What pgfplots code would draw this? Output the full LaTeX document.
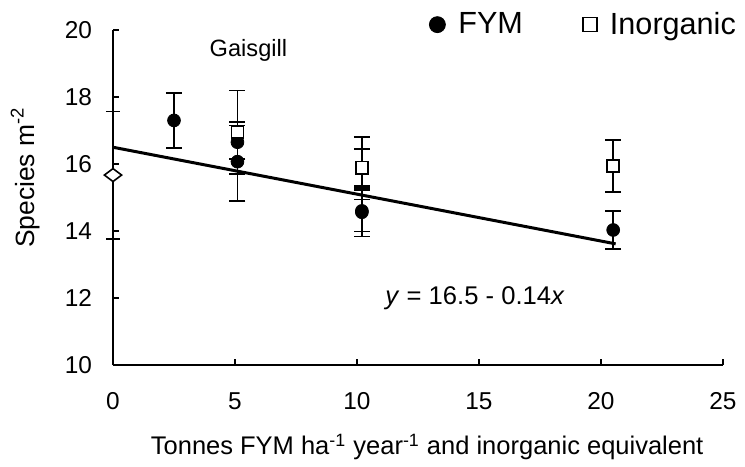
\documentclass[border=0pt]{standalone}
\usepackage{fontspec}
\setmainfont{Liberation Sans}
\usepackage{pgfplots}
\pgfplotsset{compat=1.18}

\newcommand{\tickfont}{\fontsize{12.2bp}{14bp}\selectfont}
\newcommand{\xlabelfont}{\fontsize{12.75bp}{15bp}\selectfont}
\newcommand{\ylabelfont}{\fontsize{13.2bp}{15bp}\selectfont}
\newcommand{\legfont}{\fontsize{15.3bp}{18bp}\selectfont}

% FYM plots (filled circles): x, mean, standard error
\pgfplotstableread{
x     y      e
2.5   17.30  0.82
5.1   16.65  0.50
5.1   16.07  1.18
10.2  14.60  0.62
10.2  14.56  0.73
20.5  14.03  0.56
}\fym

% Inorganic equivalents (open squares)
\pgfplotstableread{
x     y      e
5.1   16.95  1.24
10.2  15.87  0.93
10.2  15.90  0.55
20.5  15.94  0.78
}\inorg

% Unfertilised control
\pgfplotstableread{
x     y      e
0     15.67  1.90
}\control

\begin{document}
\begin{tikzpicture}
\useasboundingbox (0,0) rectangle (372.5bp,233.5bp);
\begin{axis}[
  at={(56.5bp,51bp)}, anchor=south west,
  scale only axis, width=305bp, height=167.5bp,
  xmin=0, xmax=25, ymin=10, ymax=20,
  axis x line=bottom, axis y line=left,
  axis line style={-, line width=1bp, black},
  xtick={0,5,...,25}, ytick={10,12,...,20},
  tick align=inside, major tick length=3.2bp,
  tick style={line width=0.9bp, black},
  /pgf/number format/assume math mode=true,
  ticklabel style={font=\tickfont},
  xticklabel style={anchor=center, yshift=-18bp},
  yticklabel style={anchor=east, xshift=-7bp},
  xlabel={Tonnes FYM ha\textsuperscript{-1} year\textsuperscript{-1} and inorganic equivalent},
  ylabel={Species m\textsuperscript{-2}},
  every axis x label/.style={at={(axis description cs:0.515,-0.245)}, anchor=center, font=\xlabelfont},
  every axis y label/.style={at={(axis description cs:-0.144,0.56)}, rotate=90, anchor=center, font=\ylabelfont},
  legend columns=2,
  legend style={at={(axis description cs:0.518,1.016)}, anchor=west,
    draw=none, fill=none, inner sep=0pt, font=\legfont,
    nodes={inner sep=0pt},
    /tikz/every odd column/.append style={column sep=6.5bp},
    /tikz/every even column/.append style={column sep=30bp}},
  legend image code/.code={\draw[#1] plot coordinates {(4bp,0bp)};},
  clip=false,
]

% control (zero input)
\addplot[only marks, mark=diamond*, mark size=4.3bp, black, forget plot,
  mark options={rotate=90, fill=white, line width=0.8bp},
  error bars/.cd, y dir=both, y explicit,
  error bar style={line width=0.8bp, black},
  error mark options={rotate=90, mark size=3.5bp, line width=0.8bp, black}]
  table[x=x, y=y, y error=e] {\control};

% fitted regression y = 16.5 - 0.14x
\addplot[line width=1.5bp, black, forget plot] coordinates {(0,16.5) (20.6,13.616)};

\addplot[only marks, mark=*, mark size=3.2bp, black,
  mark options={fill=black},
  legend image post style={mark size=4bp},
  error bars/.cd, y dir=both, y explicit,
  error bar style={line width=0.8bp, black},
  error mark options={rotate=90, mark size=4bp, line width=0.8bp, black}]
  table[x=x, y=y, y error=e] {\fym};
\addlegendentry{FYM}

\addplot[only marks, mark=square*, mark size=3bp, black,
  mark options={fill=white, line width=0.8bp},
  legend image post style={mark size=3.5bp},
  error bars/.cd, y dir=both, y explicit,
  error bar style={line width=0.8bp, black},
  error mark options={rotate=90, mark size=4bp, line width=0.8bp, black}]
  table[x=x, y=y, y error=e] {\inorg};
\addlegendentry{Inorganic}

\node[font=\fontsize{11.8bp}{14bp}\selectfont, anchor=center] at (axis cs:5.55,19.4) {Gaisgill};
\node[font=\fontsize{12.8bp}{15bp}\selectfont, anchor=center] at (axis cs:14.84,12.0) {\textit{y} = 16.5 - 0.14\textit{x}};
\end{axis}
\end{tikzpicture}
\end{document}
